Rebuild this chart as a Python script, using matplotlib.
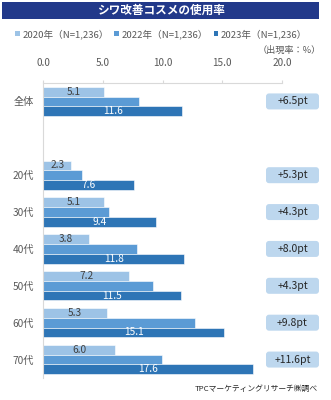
import matplotlib
matplotlib.use('Agg')
import matplotlib.pyplot as plt
from matplotlib.patches import FancyBboxPatch, Rectangle

plt.rcParams['font.family'] = ['Noto Sans CJK JP', 'DejaVu Sans']

# data
categories = ['全体', '', '20代', '30代', '40代', '50代', '60代', '70代']
series_names = ['2020年（N=1,236）', '2022年（N=1,236）', '2023年（N=1,236）']
vals_2020 = [5.1, None, 2.3, 5.1, 3.8, 7.2, 5.3, 6.0]
vals_2022 = [8.0, None, 3.2, 5.5, 7.8, 9.2, 12.7, 9.9]
vals_2023 = [11.6, None, 7.6, 9.4, 11.8, 11.5, 15.1, 17.6]
diff_labels = ['+6.5pt', None, '+5.3pt', '+4.3pt', '+8.0pt', '+4.3pt', '+9.8pt', '+11.6pt']
xticks = [0, 5, 10, 15, 20]

colors = ['#9DC3E6', '#5B9BD5', '#2E75B6']
text_gray = '#595959'

W, H = 331, 400
fig = plt.figure(figsize=(W / 100, H / 100), dpi=100)

# title banner
fig.add_artist(Rectangle((2 / W, 1 - 19 / H), 317 / W, 17 / H, transform=fig.transFigure,
                         facecolor='#22398a', edgecolor='none'))
fig.text(161 / W, 1 - 10.5 / H, 'シワ改善コスメの使用率', color='white', fontsize=8.4,
         fontweight='bold', ha='center', va='center')

ax = fig.add_axes([43.5 / W, 1 - 378 / H, (282 - 43.5) / W, (378 - 83) / H])

bh = 0.265
for k, vals in enumerate([vals_2020, vals_2022, vals_2023]):
    pos = [i + (k - 1) * bh for i, v in enumerate(vals) if v is not None]
    v = [x for x in vals if x is not None]
    bars = ax.barh(pos, v, height=bh, color=colors[k], edgecolor='white', linewidth=0.4,
                   label=series_names[k])
    if k == 0:
        ax.bar_label(bars, labels=[f'{x:.1f}' for x in v], label_type='center',
                     fontsize=7.3, color='#404040')
    elif k == 2:
        ax.bar_label(bars, labels=[f'{x:.1f}' for x in v], label_type='center',
                     fontsize=7.3, color='white')

ax.set_xlim(0, 20)
ax.set_ylim(len(categories) - 0.5, -0.5)
ax.set_yticks(range(len(categories)))
ax.set_yticklabels(categories, fontsize=7.3, color=text_gray)
ax.set_xticks(xticks)
ax.set_xticklabels([f'{x:.1f}' for x in xticks], fontsize=7.2, color=text_gray)
ax.xaxis.tick_top()
ax.tick_params(axis='x', length=2, color='#d9d9d9', pad=9)
ax.tick_params(axis='y', length=0, pad=7)
for s in ['right', 'bottom']:
    ax.spines[s].set_visible(False)
for s in ['top', 'left']:
    ax.spines[s].set_color('#d9d9d9')
    ax.spines[s].set_linewidth(0.8)

# difference badges
for i, lab in enumerate(diff_labels):
    if lab is None:
        continue
    y_px = ax.transData.transform((0, i))[1]
    fig.add_artist(FancyBboxPatch((266, y_px - 8), 53, 16, boxstyle='round,pad=0,rounding_size=3',
                                  transform=None, facecolor='#BDD7EE', edgecolor='none'))
    fig.text(292.5 / W, y_px / H, lab, fontsize=7.5, color='#262626', ha='center', va='center')

leg = fig.legend(loc='center', bbox_to_anchor=(161 / W, 1 - 34 / H), ncol=3, fontsize=6.9,
                 frameon=False, handlelength=0.5, handleheight=0.5, handletextpad=0.25,
                 columnspacing=0.6, labelcolor=text_gray)
for h in leg.legend_handles:
    h.set_edgecolor('none')

fig.text(321 / W, 1 - 50 / H, '（出現率：%）', fontsize=6.6, color=text_gray, ha='right', va='center')
fig.text(318 / W, 1 - 389 / H, 'TPCマーケティングリサーチ㈱調べ', fontsize=5.6, color='#262626',
         ha='right', va='center')

fig.savefig('out.png', dpi=100)
